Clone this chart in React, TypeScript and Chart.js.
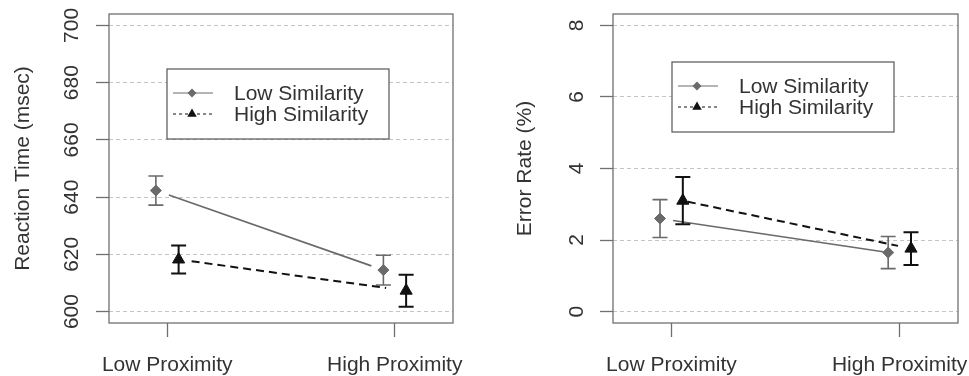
import React, { useEffect, useRef } from 'react';
import { Chart, registerables } from 'chart.js';

Chart.register(...registerables);

// ---------- data ----------
const categories = ['Low Proximity', 'High Proximity'];
const xPositions = [1, 2];
const seriesNames = ['Low Similarity', 'High Similarity'];
const seriesOffsets = [-0.05, 0.05];

const rtTicks = [600, 620, 640, 660, 680, 700];
const rtLowSim = [642.3, 614.5];
const rtLowSimErr = [5.1, 5.2];
const rtHighSim = [618.2, 607.3];
const rtHighSimErr = [4.9, 5.6];

const erTicks = [0, 2, 4, 6, 8];
const erLowSim = [2.6, 1.65];
const erLowSimErr = [0.53, 0.45];
const erHighSim = [3.1, 1.76];
const erHighSimErr = [0.66, 0.46];

// ---------- style ----------
const FONT = "'Liberation Sans', Arial, Helvetica, sans-serif";
const TEXT = '#333333';
const AXIS = '#707070';
const GRID = '#c4c4c4';
const LOW_COLOR = '#6a6a6a';
const HIGH_COLOR = '#111111';

type Series = {
  name: string;
  values: number[];
  errs: number[];
  offset: number;
  color: string;
  pointStyle: string;
  radius: number;
  legendRadius: number;
  dash: number[];
  legendDash: number[];
  lineWidth: number;
  errWidth: number;
  gap: number[];
};

type PanelCfg = {
  left: number;
  width: number;
  yTitle: string;
  yMin: number;
  yMax: number;
  yTicks: number[];
  yAxisWidth: number;
  yTickPad: number;
  yTitlePad: number;
  padRight: number;
  legendDx: number;
  legendDy: number;
  series: Series[];
};

function makeSeries(values: number[], errs: number[], idx: number, gap: number[]): Series {
  const low = idx === 0;
  return {
    name: seriesNames[idx],
    values,
    errs,
    offset: seriesOffsets[idx],
    color: low ? LOW_COLOR : HIGH_COLOR,
    pointStyle: low ? 'rectRot' : 'triangle',
    radius: low ? 5.5 : 7,
    legendRadius: low ? 4.5 : 5.5,
    dash: low ? [] : [8, 5],
    legendDash: low ? [] : [3, 3],
    lineWidth: low ? 1.6 : 2,
    errWidth: low ? 1.6 : 2,
    gap,
  };
}

const panels: PanelCfg[] = [
  {
    left: 0,
    width: 484,
    yTitle: 'Reaction Time (msec)',
    yMin: 596,
    yMax: 704,
    yTicks: rtTicks,
    yAxisWidth: 109,
    yTickPad: 6.5,
    yTitlePad: 11,
    padRight: 31,
    legendDx: 58,
    legendDy: 55,
    series: [
      makeSeries(rtLowSim, rtLowSimErr, 0, [13, 12]),
      makeSeries(rtHighSim, rtHighSimErr, 1, [13, 20]),
    ],
  },
  {
    left: 484,
    width: 485,
    yTitle: 'Error Rate (%)',
    yMin: -0.32,
    yMax: 8.32,
    yTicks: erTicks,
    yAxisWidth: 129,
    yTickPad: 17,
    yTitlePad: 29,
    padRight: 11,
    legendDx: 59,
    legendDy: 48,
    series: [
      makeSeries(erLowSim, erLowSimErr, 0, [13, 5]),
      makeSeries(erHighSim, erHighSimErr, 1, [5, 13]),
    ],
  },
];

function markerPath(ctx: CanvasRenderingContext2D, style: string, r: number, x: number, y: number) {
  ctx.beginPath();
  if (style === 'rectRot') {
    ctx.moveTo(x, y - r);
    ctx.lineTo(x + r, y);
    ctx.lineTo(x, y + r);
    ctx.lineTo(x - r, y);
  } else {
    ctx.moveTo(x, y - r);
    ctx.lineTo(x + r * 0.866, y + r * 0.5);
    ctx.lineTo(x - r * 0.866, y + r * 0.5);
  }
  ctx.closePath();
}

function Panel({ cfg }: { cfg: PanelCfg }) {
  const ref = useRef<HTMLCanvasElement>(null);

  useEffect(() => {
    if (!ref.current) return;
    const series = cfg.series;

    const plugin = {
      id: 'rstyle',
      beforeDatasetsDraw(chart: any) {
        const ctx = chart.ctx;
        const xs = chart.scales.x;
        const ys = chart.scales.y;
        series.forEach((s) => {
          const pts = s.values.map((v, i) => ({
            x: xs.getPixelForValue(xPositions[i] + s.offset),
            y: ys.getPixelForValue(v),
          }));
          const a = pts[0];
          const b = pts[1];
          const dx = b.x - a.x;
          const dy = b.y - a.y;
          const t0 = s.gap[0] / dx;
          const t1 = 1 - s.gap[1] / dx;
          ctx.save();
          ctx.strokeStyle = s.color;
          ctx.lineWidth = s.lineWidth;
          ctx.setLineDash(s.dash);
          ctx.beginPath();
          ctx.moveTo(a.x + dx * t0, a.y + dy * t0);
          ctx.lineTo(a.x + dx * t1, a.y + dy * t1);
          ctx.stroke();
          ctx.setLineDash([]);
          ctx.lineWidth = s.errWidth;
          s.values.forEach((v, i) => {
            const px = pts[i].x;
            const top = ys.getPixelForValue(v + s.errs[i]);
            const bot = ys.getPixelForValue(v - s.errs[i]);
            ctx.beginPath();
            ctx.moveTo(px, top);
            ctx.lineTo(px, bot);
            ctx.moveTo(px - 7.5, top);
            ctx.lineTo(px + 7.5, top);
            ctx.moveTo(px - 7.5, bot);
            ctx.lineTo(px + 7.5, bot);
            ctx.stroke();
          });
          ctx.restore();
        });
      },
      afterDraw(chart: any) {
        const ctx = chart.ctx as CanvasRenderingContext2D;
        const ca = chart.chartArea;
        ctx.save();
        // plot box
        ctx.strokeStyle = AXIS;
        ctx.lineWidth = 1.3;
        ctx.strokeRect(ca.left, ca.top, ca.right - ca.left, ca.bottom - ca.top);
        // legend
        const bx = ca.left + cfg.legendDx;
        const by = ca.top + cfg.legendDy;
        ctx.fillStyle = '#ffffff';
        ctx.fillRect(bx, by, 222, 70);
        ctx.strokeStyle = '#555555';
        ctx.lineWidth = 1.2;
        ctx.strokeRect(bx, by, 222, 70);
        const rows = [by + 24, by + 45];
        series.forEach((s, i) => {
          const y = rows[i];
          ctx.strokeStyle = s.color;
          ctx.lineWidth = 1;
          ctx.setLineDash(s.legendDash);
          ctx.beginPath();
          ctx.moveTo(bx + 6, y);
          ctx.lineTo(bx + 46, y);
          ctx.stroke();
          ctx.setLineDash([]);
          ctx.fillStyle = s.color;
          markerPath(ctx, s.pointStyle, s.legendRadius, bx + 25, y);
          ctx.fill();
          ctx.fillStyle = TEXT;
          ctx.font = `21px ${FONT}`;
          ctx.textAlign = 'left';
          ctx.textBaseline = 'middle';
          ctx.fillText(s.name, bx + 67, y + 1);
        });
        ctx.restore();
      },
    };

    const chart = new Chart(ref.current, {
      type: 'scatter',
      data: {
        datasets: series.map((s) => ({
          label: s.name,
          data: s.values.map((v, i) => ({ x: xPositions[i] + s.offset, y: v })),
          showLine: false,
          pointStyle: s.pointStyle as any,
          pointRadius: s.radius,
          pointBackgroundColor: s.color,
          pointBorderColor: s.color,
          pointBorderWidth: 1,
        })),
      },
      options: {
        animation: false,
        responsive: false,
        events: [],
        layout: { padding: { top: 14, right: cfg.padRight, bottom: 0, left: 0 } },
        plugins: { legend: { display: false }, tooltip: { enabled: false } },
        scales: {
          x: {
            type: 'linear',
            min: 0.744,
            max: 2.256,
            afterBuildTicks: (scale: any) => {
              scale.ticks = xPositions.map((v) => ({ value: v }));
            },
            afterFit: (scale: any) => {
              scale.height = 53;
              scale.paddingLeft = 0;
              scale.paddingRight = 0;
            },
            border: { display: false },
            grid: {
              drawOnChartArea: false,
              drawTicks: true,
              tickLength: 14,
              tickColor: AXIS,
              tickWidth: 1.3,
            },
            ticks: {
              autoSkip: false,
              maxRotation: 0,
              minRotation: 0,
              padding: 16,
              color: TEXT,
              font: { family: FONT, size: 21 },
              callback: (_v: any, i: number) => categories[i],
            },
          },
          y: {
            type: 'linear',
            min: cfg.yMin,
            max: cfg.yMax,
            afterBuildTicks: (scale: any) => {
              scale.ticks = cfg.yTicks.map((v) => ({ value: v }));
            },
            afterFit: (scale: any) => {
              scale.width = cfg.yAxisWidth;
              scale.paddingTop = 0;
              scale.paddingBottom = 0;
            },
            border: { display: false, dash: [4, 3] },
            grid: {
              color: GRID,
              lineWidth: 1,
              drawTicks: true,
              tickLength: 13,
              tickColor: AXIS,
              tickWidth: 1.3,
              tickBorderDash: [],
            },
            ticks: {
              autoSkip: false,
              minRotation: 90,
              maxRotation: 90,
              crossAlign: 'center',
              padding: cfg.yTickPad,
              color: TEXT,
              font: { family: FONT, size: 21 },
            },
            title: {
              display: true,
              text: cfg.yTitle,
              color: TEXT,
              font: { family: FONT, size: 21 },
              padding: { top: cfg.yTitlePad, bottom: 0 },
            },
          },
        },
      },
      plugins: [plugin],
    } as any);

    return () => chart.destroy();
  }, [cfg]);

  return (
    <canvas
      ref={ref}
      width={cfg.width}
      height={376}
      style={{ position: 'absolute', left: cfg.left, top: 0, width: cfg.width, height: 376 }}
    />
  );
}

export default function App() {
  return (
    <div
      style={{
        position: 'fixed',
        left: 0,
        top: 0,
        width: 969,
        height: 376,
        background: '#ffffff',
        overflow: 'hidden',
      }}
    >
      {panels.map((p, i) => (
        <Panel key={i} cfg={p} />
      ))}
    </div>
  );
}
